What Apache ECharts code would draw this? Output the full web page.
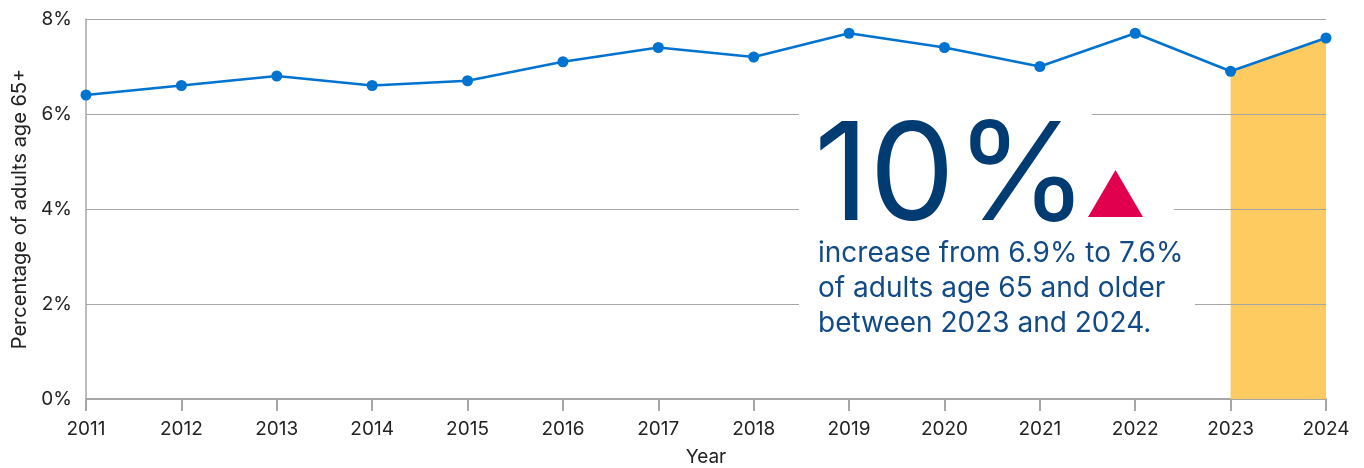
<!DOCTYPE html>
<html>
<head>
<meta charset="utf-8">
<script src="https://cdn.jsdelivr.net/npm/echarts@6/dist/echarts.min.js"></script>
<style>
  html, body { margin: 0; padding: 0; background: #fff; }
  #chart { width: 1364px; height: 468px; }
</style>
</head>
<body>
<div id="chart"></div>
<script>
// Share of adults age 65+ by year
const years = ['2011','2012','2013','2014','2015','2016','2017','2018','2019','2020','2021','2022','2023','2024'];
const share = [6.4, 6.6, 6.8, 6.6, 6.7, 7.1, 7.4, 7.2, 7.7, 7.4, 7.0, 7.7, 6.9, 7.6];
// Highlighted span (last two years)
const highlight = [null, null, null, null, null, null, null, null, null, null, null, null, 6.9, 7.6];
const yTicks = [0, 2, 4, 6, 8];

const FONT = 'Inter, "Noto Sans", sans-serif';
const chart = echarts.init(document.getElementById('chart'), null, { renderer: 'canvas' });

chart.setOption({
  animation: false,
  backgroundColor: '#ffffff',
  grid: { left: 86, right: 38, top: 19, bottom: 69, outerBoundsMode: 'none', containLabel: false },
  xAxis: {
    type: 'category',
    data: years,
    boundaryGap: false,
    name: 'Year',
    nameLocation: 'middle',
    nameGap: 49,
    nameTextStyle: { fontFamily: FONT, fontSize: 19, color: '#222' },
    axisLine: { lineStyle: { color: '#a6a6a6', width: 2 } },
    axisTick: { show: true, length: 12, lineStyle: { color: '#a6a6a6', width: 2 } },
    axisLabel: { fontFamily: FONT, fontSize: 19, color: '#222', margin: 21 }
  },
  yAxis: {
    type: 'value',
    min: yTicks[0],
    max: yTicks[yTicks.length - 1],
    interval: 2,
    z: 3,
    name: 'Percentage of adults age 65+',
    nameLocation: 'middle',
    nameGap: 54,
    nameTextStyle: { fontFamily: FONT, fontSize: 20, color: '#222' },
    axisLine: { show: true, lineStyle: { color: '#a6a6a6', width: 1.5 } },
    axisTick: { show: false },
    splitLine: { lineStyle: { color: '#a6a6a6', width: 1 } },
    axisLabel: { fontFamily: FONT, fontSize: 19, color: '#222', margin: 14, formatter: v => v + '%' }
  },
  series: [
    {
      type: 'line',
      data: highlight,
      z: 1,
      symbol: 'none',
      lineStyle: { width: 0, opacity: 0 },
      areaStyle: { color: '#fdcb60', opacity: 1 },
      silent: true
    },
    {
      type: 'line',
      data: share,
      z: 5,
      symbol: 'circle',
      symbolSize: 11,
      lineStyle: { color: '#0073d1', width: 2.5 },
      itemStyle: { color: '#0073d1' }
    }
  ],
  graphic: [
    { type: 'rect', z: 100, shape: { x: 799, y: 105, width: 293, height: 125 }, style: { fill: '#fff' } },
    { type: 'rect', z: 100, shape: { x: 1092, y: 160, width: 82, height: 70 }, style: { fill: '#fff' } },
    { type: 'rect', z: 100, shape: { x: 799, y: 230, width: 396, height: 118 }, style: { fill: '#fff' } },
    {
      type: 'text', z: 101, x: 814, y: 247,
      style: { text: '10%', font: '400 136px ' + FONT, fill: '#003b71', textVerticalAlign: 'bottom' }
    },
    {
      type: 'polygon', z: 101,
      shape: { points: [[1088, 217], [1143, 217], [1115.5, 170]] },
      style: { fill: '#e0004d' }
    },
    {
      type: 'text', z: 101, x: 818, y: 236,
      style: {
        text: 'increase from 6.9% to 7.6%\nof adults age 65 and older\nbetween 2023 and 2024.',
        font: '400 28px ' + FONT, lineHeight: 35, fill: '#124a85'
      }
    }
  ]
});
</script>
</body>
</html>
